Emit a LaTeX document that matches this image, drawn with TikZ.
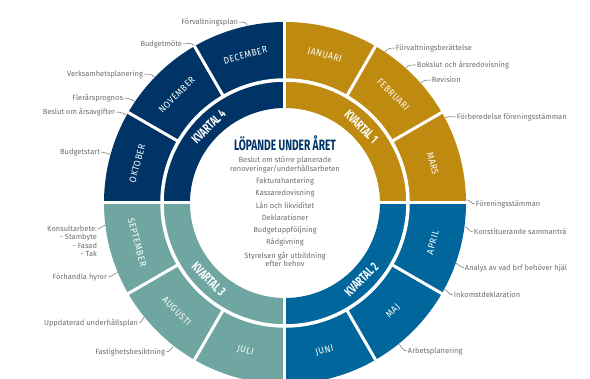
\documentclass[tikz,border=0pt]{standalone}
\usepackage{fontspec}
\setmainfont{Fira Sans}
\newfontfamily\condfont[FakeStretch=0.68]{Fira Sans}
\newfontfamily\monthfont[FakeStretch=0.9,LetterSpace=6]{Fira Sans}
\definecolor{qgold}{HTML}{BE8A0F}
\definecolor{qblue}{HTML}{00669B}
\definecolor{qteal}{HTML}{6FA6A1}
\definecolor{qnavy}{HTML}{003466}
\definecolor{lblgray}{HTML}{6E6E70}
\tikzset{
  month/.style={text=white, font=\monthfont\fontsize{9.5}{10}\selectfont, inner sep=0pt},
  quarter/.style={text=white, font=\condfont\bfseries\fontsize{13}{14}\selectfont, inner sep=0pt},
  lbl/.style={text=lblgray, font=\fontsize{7.5}{8.6}\selectfont, inner sep=0.8pt},
  item/.style={text=lblgray, font=\fontsize{7.5}{7.3}\selectfont, align=center, inner sep=0pt},
  tick/.style={draw=lblgray, line width=0.5pt},
  sep/.style={draw=white, line width=3pt},
}
\begin{document}
\begin{tikzpicture}[x=1pt,y=1pt]
\useasboundingbox (-285,203) rectangle (305,-176);
% quarter sectors
\foreach \s/\c in {0/qgold,-90/qblue,-180/qteal,90/qnavy}{
  \fill[\c] (\s:181pt) arc[start angle=\s, end angle=\s+90, radius=181pt] -- (\s+90:95pt) arc[start angle=\s+90, end angle=\s, radius=95pt] -- cycle;
}
\draw[white, line width=3.5pt] (0,0) circle[radius=123pt];
\foreach \a in {0,30,...,330}{\draw[sep] (\a:124pt) -- (\a:183pt);}
\foreach \a in {0,90,180,270}{\draw[sep] (\a:93pt) -- (\a:183pt);}
% months
\foreach \n/\a in {JANUARI/75,FEBRUARI/45,MARS/15,OKTOBER/165,NOVEMBER/135,DECEMBER/105}{
  \node[month, rotate=\a-90] (m-\n) at (\a:153pt) {\n};}
\foreach \n/\a in {APRIL/-15,MAJ/-45,JUNI/-75,JULI/-105,AUGUSTI/-135,SEPTEMBER/-165}{
  \node[month, rotate=\a+90] (m-\n) at (\a:153pt) {\n};}
% quarters
\node[quarter, rotate=-45] (k1) at (45:108pt) {KVARTAL 1};
\node[quarter, rotate=45] (k2) at (-45:108pt) {KVARTAL 2};
\node[quarter, rotate=-45] (k3) at (-135:108pt) {KVARTAL 3};
\node[quarter, rotate=45] (k4) at (135:108pt) {KVARTAL 4};
% centre
\node[text=qnavy, font=\condfont\bfseries\fontsize{15}{15}\selectfont, inner sep=0pt] (head) at (0,60) {LÖPANDE UNDER ÅRET};
\node[item] (c1) at (0,38.5) {Beslut om större planerade\\renoveringar/underhållsarbeten};
\node[item] (c2) at (0,22) {Fakturahantering};
\node[item] (c3) at (0,10) {Kassaredovisning};
\node[item] (c4) at (0,-2) {Lån och likviditet};
\node[item] (c5) at (0,-15) {Deklarationer};
\node[item] (c6) at (0,-27) {Budgetuppföljning};
\node[item] (c7) at (0,-39) {Rådgivning};
\node[item] (c8) at (0,-56.5) {Styrelsen går utbildning\\efter behov};
% left labels
\foreach \k/\t/\x/\y/\a in {
  fplan/Förvaltningsplan/-46/181/102,
  bmote/Budgetmöte/-102/159/120,
  vplan/Verksamhetsplanering/-141/129/136,
  flp/Flerårsprognos/-161/105/146,
  bav/Beslut om årsavgifter/-169/91/151,
  bstart/Budgetstart/-184/51/164.5,
  kons/Konsultarbete:/-187/-26/187,
  fhyr/Förhandla hyror/-177/-74/-157.5,
  uup/Uppdaterad underhållsplan/-146/-120/-141,
  fbes/Fastighetsbesiktning/-119/-149/-128}{
  \node[lbl, anchor=east] (\k) at (\x,\y) {\t};
  \coordinate (r-\k) at (\a:181.5pt);
  \draw[tick] (\k.east) to[out=0, in=\a] (r-\k);
}
\node[lbl, anchor=north east, align=right, font=\fontsize{7.5}{8.7}\selectfont] (kons-list) at (kons.south east) {- Stambyte\\- Fasad\\- Tak};
% right labels (the source graphic is cut off at the right)
\begin{scope}
\clip (-285,203) rectangle (282,-176);
\foreach \k/\t/\x/\y/\a in {
  fber/Förvaltningsberättelse/110/155/56.5,
  boks/Bokslut och årsredovisning/131/138/48.2,
  rev/Revision/146/123/41.5,
  ffor/Förberedelse föreningsstämman/171/86/28,
  fst/Föreningsstämman/190/-1/1,
  kst/Konstituerande sammanträde/188/-29/-7.6,
  ana/Analys av vad brf behöver hjälp/179/-65/-19.4,
  ink/Inkomstdeklaration/168/-92/-28.4,
  arb/Arbetsplanering/122/-148/-51}{
  \node[lbl, anchor=west] (\k) at (\x,\y) {\t};
  \coordinate (r-\k) at (\a:181.5pt);
  \draw[tick] (r-\k) to[out=\a, in=180] (\k.west);
}
\end{scope}
\end{tikzpicture}
\end{document}
